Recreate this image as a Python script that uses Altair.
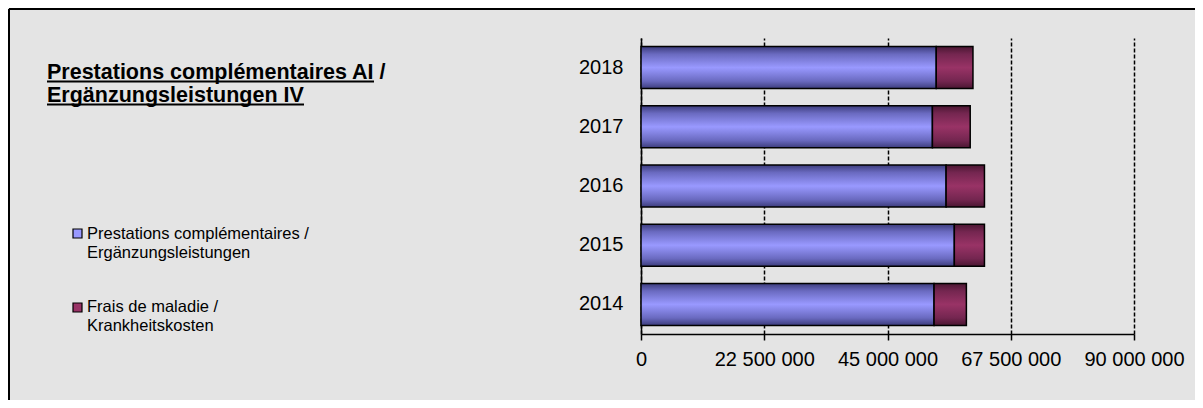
import altair as alt
import pandas as pd

# ---- data ----
years = ["2014", "2015", "2016", "2017", "2018"]
prestations = [53.5e6, 57.2e6, 55.7e6, 53.2e6, 53.9e6]   # Prestations complémentaires / Ergänzungsleistungen
frais = [5.9e6, 5.5e6, 7.0e6, 6.9e6, 6.7e6]              # Frais de maladie / Krankheitskosten
x_ticks = [0, 22500000, 45000000, 67500000, 90000000]
title_lines = ["Prestations complémentaires AI /", "Ergänzungsleistungen IV"]
legend_labels = [["Prestations complémentaires /", "Ergänzungsleistungen"],
                 ["Frais de maladie /", "Krankheitskosten"]]

df = pd.DataFrame({"year": years, "pc": prestations, "fm": frais})

W, H = 493, 296
PAD = {"left": 633, "top": 30, "right": 61, "bottom": 66}
FONT = "Liberation Sans"
BLUE = "#9999ff"
RED = "#993366"

blue_grad = alt.Gradient(
    gradient="linear", x1=0, x2=0, y1=0, y2=1,
    stops=[alt.GradientStop(color="#3c3c7c", offset=0),
           alt.GradientStop(color="#6a6ac0", offset=0.18),
           alt.GradientStop(color=BLUE, offset=0.5),
           alt.GradientStop(color="#6a6ac0", offset=0.82),
           alt.GradientStop(color="#3c3c7c", offset=1)])
red_grad = alt.Gradient(
    gradient="linear", x1=0, x2=0, y1=0, y2=1,
    stops=[alt.GradientStop(color="#4a1631", offset=0),
           alt.GradientStop(color="#742650", offset=0.18),
           alt.GradientStop(color=RED, offset=0.5),
           alt.GradientStop(color="#742650", offset=0.82),
           alt.GradientStop(color="#4a1631", offset=1)])

x_scale = alt.Scale(domain=[0, 90000000], nice=False, zero=True)
x_axis = alt.Axis(
    title=None, values=x_ticks, labelOverlap=False, labelFlush=False,
    labelExpr="replace(format(datum.value, ','), regexp(',', 'g'), ' ')",
    grid=True, gridColor="black", gridDash=[4, 2], gridWidth=1.5,
    domainColor="black", domainWidth=1.5,
    tickColor="black", tickSize=6, tickWidth=1.5,
    labelFontSize=20, labelPadding=9, labelColor="black", labelFont=FONT)
y_enc = alt.Y(
    "year:N", sort=years[::-1],
    scale=alt.Scale(paddingInner=0.29, paddingOuter=0.145),
    axis=alt.Axis(title=None, ticks=False, labelPadding=18, labelFontSize=20,
                  labelColor="black", labelFont=FONT, domainColor="black",
                  domainWidth=1.5, grid=False))

blue = alt.Chart(df).mark_bar(fill=blue_grad, stroke="black", strokeWidth=1.5).encode(
    x=alt.X("pc:Q", scale=x_scale, axis=x_axis),
    y=y_enc,
)
red = alt.Chart(df).transform_calculate(total="datum.pc + datum.fm").mark_bar(
    fill=red_grad, stroke="black", strokeWidth=1.5).encode(
    x=alt.X("pc:Q", scale=x_scale, axis=x_axis),
    x2="total:Q",
    y=y_enc,
)

one = alt.Data(values=[{"k": 0}])

# title (bold, underlined)
title1 = alt.Chart(one).mark_text(align="left", baseline="alphabetic", font=FONT,
                                  fontSize=21.5, fontWeight="bold", color="black").encode(
    x=alt.value(-594), y=alt.value(41), text=alt.value(title_lines[0]))
title2 = alt.Chart(one).mark_text(align="left", baseline="alphabetic", font=FONT,
                                  fontSize=21.5, fontWeight="bold", color="black").encode(
    x=alt.value(-594), y=alt.value(64), text=alt.value(title_lines[1]))
ul1 = alt.Chart(one).mark_rule(color="black", strokeWidth=1.8).encode(
    x=alt.value(-594), x2=alt.value(-267), y=alt.value(43.5))
ul2 = alt.Chart(one).mark_rule(color="black", strokeWidth=1.8).encode(
    x=alt.value(-594), x2=alt.value(-337), y=alt.value(66.5))

# legend
sw1 = alt.Chart(one).mark_rect(fill=BLUE, stroke="black", strokeWidth=1.2).encode(
    x=alt.value(-568), x2=alt.value(-559), y=alt.value(191), y2=alt.value(200))
sw2 = alt.Chart(one).mark_rect(fill=RED, stroke="black", strokeWidth=1.2).encode(
    x=alt.value(-568), x2=alt.value(-559), y=alt.value(265), y2=alt.value(274))
lt1 = alt.Chart(one).mark_text(align="left", baseline="alphabetic", font=FONT,
                               fontSize=16.5, lineHeight=19.5, color="black").encode(
    x=alt.value(-554), y=alt.value(200.5), text=alt.value(legend_labels[0]))
lt2 = alt.Chart(one).mark_text(align="left", baseline="alphabetic", font=FONT,
                               fontSize=16.5, lineHeight=19.5, color="black").encode(
    x=alt.value(-554), y=alt.value(273.5), text=alt.value(legend_labels[1]))

# outer frame (top and left edges visible in the reference)
frame_l = alt.Chart(one).mark_rule(color="black", strokeWidth=2).encode(
    x=alt.value(-632), y=alt.value(-29), y2=alt.value(H + PAD["bottom"]))
frame_t = alt.Chart(one).mark_rule(color="black", strokeWidth=2).encode(
    x=alt.value(-632), x2=alt.value(W + PAD["right"]), y=alt.value(-29))

chart = alt.layer(
    blue, red, title1, title2, ul1, ul2, sw1, sw2, lt1, lt2, frame_l, frame_t
).properties(
    width=W, height=H, padding=PAD, autosize="none", background="#e4e4e4"
).configure(font=FONT).configure_view(stroke="transparent", strokeWidth=0)

chart.save("out.html", embed_options={"renderer": "svg", "actions": False})
